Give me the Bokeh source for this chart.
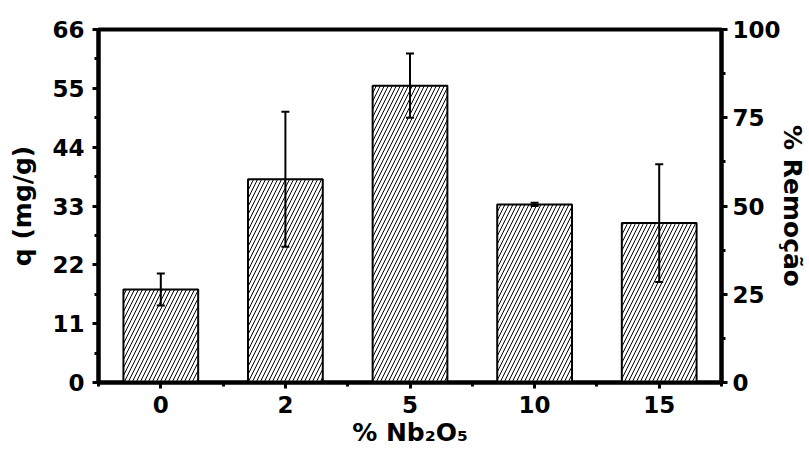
import numpy as np
from bokeh.plotting import figure
from bokeh.models import (ColumnDataSource, Range1d, LinearAxis, FixedTicker,
                          Whisker, TeeHead)
from bokeh.embed import file_html
from bokeh.resources import INLINE

# ---- data ----
categories = ["0", "2", "5", "10", "15"]
q_values = [17.4, 38.0, 55.5, 33.3, 29.8]
q_errors = [3.0, 12.6, 6.0, 0.3, 11.0]
left_ticks = [0, 11, 22, 33, 44, 55, 66]
right_ticks = [0, 25, 50, 75, 100]

FONT = "DejaVu Sans"
x = list(range(len(categories)))
upper = [v + e for v, e in zip(q_values, q_errors)]
lower = [v - e for v, e in zip(q_values, q_errors)]
src = ColumnDataSource(dict(x=x, q=q_values, upper=upper, lower=lower))

p = figure(width=809, height=460, output_backend="svg", toolbar_location=None,
           x_range=Range1d(-0.5, len(categories) - 0.5), y_range=Range1d(0, 66),
           min_border_left=98, min_border_right=87, min_border_top=29,
           min_border_bottom=78)
p.extra_y_ranges = {"pct": Range1d(0, 100)}
p.grid.visible = False
p.background_fill_color = "white"
p.border_fill_color = "white"
p.outline_line_color = "black"
p.outline_line_width = 4

p.vbar(x="x", top="q", width=0.6, source=src, fill_color="white",
       line_color="black", line_width=2, hatch_pattern="/",
       hatch_color="black", hatch_weight=1, hatch_scale=8)

w = Whisker(base="x", upper="upper", lower="lower", source=src,
            line_width=2, line_color="black", level="overlay",
            upper_head=TeeHead(size=8, line_width=2, line_color="black"),
            lower_head=TeeHead(size=8, line_width=2, line_color="black"))
p.add_layout(w)

minor_x = [i - 0.5 for i in range(len(categories) + 1)]
p.xaxis.ticker = FixedTicker(ticks=x, minor_ticks=minor_x)
p.xaxis.major_label_overrides = {i: c for i, c in enumerate(categories)}
p.xaxis.axis_label = "% Nb\u2082O\u2085"

p.yaxis.ticker = FixedTicker(ticks=left_ticks,
                             minor_ticks=[t + 5.5 for t in left_ticks[:-1]])
p.yaxis.axis_label = "q (mg/g)"

raxis = LinearAxis(y_range_name="pct", axis_label="% Remo\u00e7\u00e3o",
                   ticker=FixedTicker(ticks=right_ticks,
                                      minor_ticks=[t + 12.5 for t in right_ticks[:-1]]))
p.add_layout(raxis, "right")

for ax in [p.xaxis[0], p.yaxis[0], raxis]:
    ax.axis_line_width = 4
    ax.axis_line_color = "black"
    ax.major_tick_line_width = 3
    ax.major_tick_line_color = "black"
    ax.major_tick_out = 6
    ax.major_tick_in = 0
    ax.minor_tick_line_width = 3
    ax.minor_tick_line_color = "black"
    ax.minor_tick_out = 4
    ax.minor_tick_in = 0
    ax.major_label_text_font = FONT
    ax.major_label_text_font_style = "bold"
    ax.major_label_text_font_size = "23px"
    ax.major_label_text_color = "black"
    ax.axis_label_text_font = FONT
    ax.axis_label_text_font_style = "bold"
    ax.axis_label_text_font_size = "25px"
    ax.axis_label_text_color = "black"

p.yaxis[0].major_label_standoff = 8
p.yaxis[0].axis_label_standoff = 12
raxis.major_label_standoff = 5
raxis.axis_label_standoff = -6
p.xaxis[0].major_label_standoff = 7
p.xaxis[0].axis_label_standoff = 2

open("out.html", "w").write(file_html(p, INLINE))
